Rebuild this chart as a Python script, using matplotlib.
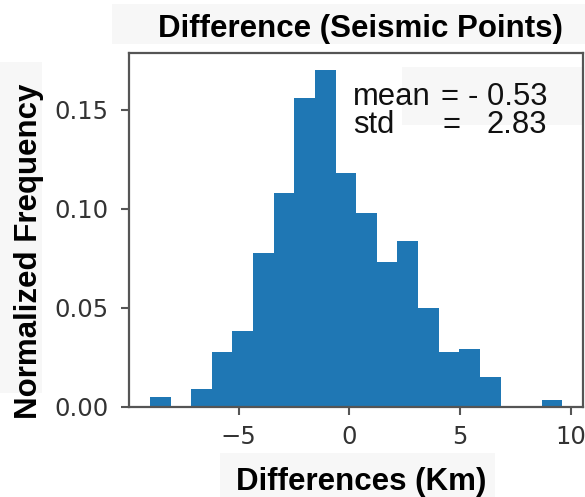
import matplotlib
matplotlib.use("Agg")
import matplotlib.pyplot as plt
from matplotlib.patches import Rectangle
import numpy as np

# Histogram data (density-normalized), 20 equal-width bins
bin_start = -9.0
bin_end = 9.61
n_bins = 20
heights = [0.0050, 0.0, 0.0089, 0.0274, 0.0381, 0.0779, 0.1078, 0.1560,
           0.1704, 0.1183, 0.0980, 0.0732, 0.0836, 0.0499, 0.0274, 0.0292,
           0.0148, 0.0, 0.0, 0.0032]
mean_val = "- 0.53"
std_val = "2.83"
title = "Difference (Seismic Points)"
xlabel = "Differences (Km)"
ylabel = "Normalized Frequency"
xticks = [-5, 0, 5, 10]
yticks = [0.00, 0.05, 0.10, 0.15]

W, H = 585, 497
fig = plt.figure(figsize=(W / 100, H / 100), dpi=100)
fig.patch.set_facecolor("white")

def px(x0, y0, x1, y1):
    return (x0 / W, 1 - y1 / H, (x1 - x0) / W, (y1 - y0) / H)

def fx(x):
    return x / W

def fy(y):
    return 1 - y / H

bg = "#f7f7f7"
for (x0, y0, x1, y1) in [(112, 4, 585, 44), (0, 62, 42, 393), (220, 453, 495, 497), (402, 67, 582, 125)]:
    l, b, w, h = px(x0, y0, x1, y1)
    fig.patches.append(Rectangle((l, b), w, h, transform=fig.transFigure,
                                 facecolor=bg, edgecolor="none", zorder=-5))

AX_L, AX_T, AX_R, AX_B = 129.3, 52.7, 583, 406.7
ax = fig.add_axes(px(AX_L, AX_T, AX_R, AX_B))
ax.set_facecolor("none")

edges = np.linspace(bin_start, bin_end, n_bins + 1)
ax.hist(edges[:-1], bins=edges, weights=heights, color="#1f77b4")

ax.set_xticks(xticks)
ax.set_yticks(yticks)
ax.set_yticklabels([f"{v:.2f}" for v in yticks])

spine_c = "#555555"
for s in ax.spines.values():
    s.set_color(spine_c)
    s.set_linewidth(1.6)
ax.tick_params(direction="out", length=6, width=1.5, color=spine_c,
               labelsize=17.5, labelcolor="#333333")
ax.tick_params(axis="x", pad=7)
ax.tick_params(axis="y", pad=9)

bold = dict(family=["Liberation Sans", "DejaVu Sans"], weight="bold", fontsize=22.5)
t = ax.set_title(title, pad=0, va="baseline",
                 x=(360.5 - AX_L) / (AX_R - AX_L),
                 y=(AX_B - 37) / (AX_B - AX_T), **bold)

ax.set_xlabel(xlabel, **bold)
ax.xaxis.set_label_coords(fx(361.5), fy(490), transform=fig.transFigure)
ax.xaxis.label.set_va("baseline")

ax.set_ylabel(ylabel, **bold)
ax.yaxis.set_label_coords(fx(37), fy(251.5), transform=fig.transFigure)
ax.yaxis.label.set_va("baseline")

reg = dict(family=["Liberation Sans", "DejaVu Sans"], fontsize=22.3, color="#111111",
           va="baseline")
fig.text(fx(353), fy(105), "mean", **reg)
fig.text(fx(440), fy(105), "=", **reg)
fig.text(fx(468), fy(105), mean_val, **reg)
fig.text(fx(353), fy(133), "std", **reg)
fig.text(fx(443), fy(133), "=", **reg)
fig.text(fx(487), fy(133), std_val, **reg)

fig.savefig("out.png", dpi=100)
